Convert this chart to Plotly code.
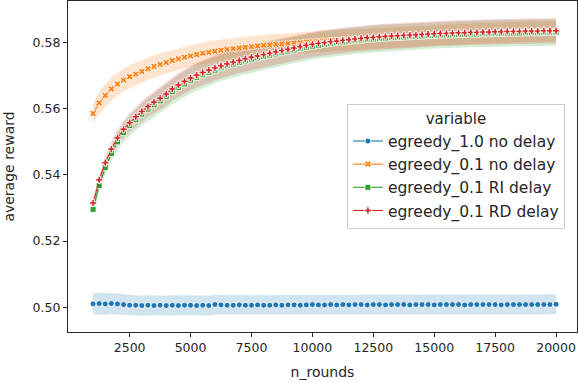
import numpy as np
import plotly.graph_objects as go

# n_rounds grid (every 250 rounds)
n_rounds = list(range(1000, 20001, 250))

# mean average reward per series
egreedy_10_no_delay = [
    0.5010, 0.5011, 0.5010, 0.5011, 0.5010, 0.5008, 0.5006, 0.5006, 0.5005, 0.5006,
    0.5005, 0.5006, 0.5005, 0.5006, 0.5005, 0.5006, 0.5006, 0.5005, 0.5006, 0.5005,
    0.5008, 0.5007, 0.5006, 0.5006, 0.5007, 0.5006, 0.5006, 0.5007, 0.5006, 0.5006,
    0.5007, 0.5006, 0.5007, 0.5007, 0.5006, 0.5007, 0.5008, 0.5007, 0.5007, 0.5008,
    0.5007, 0.5008, 0.5007, 0.5008, 0.5008, 0.5007, 0.5008, 0.5008, 0.5007, 0.5008,
    0.5008, 0.5008, 0.5007, 0.5008, 0.5008, 0.5008, 0.5007, 0.5008, 0.5008, 0.5008,
    0.5008, 0.5007, 0.5008, 0.5008, 0.5008, 0.5008, 0.5008, 0.5007, 0.5008, 0.5008,
    0.5008, 0.5008, 0.5008, 0.5008, 0.5008, 0.5008, 0.5009,
]
egreedy_01_no_delay = [
    0.5586, 0.5618, 0.5640, 0.5660, 0.5675, 0.5687, 0.5697, 0.5705, 0.5713, 0.5721,
    0.5728, 0.5734, 0.5740, 0.5746, 0.5751, 0.5756, 0.5760, 0.5764, 0.5768, 0.5771,
    0.5774, 0.5777, 0.5780, 0.5782, 0.5784, 0.5786, 0.5788, 0.5790, 0.5792, 0.5793,
    0.5795, 0.5796, 0.5798, 0.5799, 0.5800, 0.5802, 0.5803, 0.5804, 0.5805, 0.5806,
    0.5807, 0.5808, 0.5809, 0.5810, 0.5811, 0.5812, 0.5813, 0.5814, 0.5815, 0.5816,
    0.5817, 0.5818, 0.5819, 0.5820, 0.5821, 0.5821, 0.5822, 0.5823, 0.5824, 0.5825,
    0.5826, 0.5826, 0.5827, 0.5828, 0.5829, 0.5829, 0.5830, 0.5831, 0.5831, 0.5832,
    0.5832, 0.5833, 0.5833, 0.5834, 0.5834, 0.5835, 0.5835,
]
egreedy_01_ri_delay = [
    0.5296, 0.5368, 0.5422, 0.5465, 0.5500, 0.5528, 0.5549, 0.5567, 0.5584, 0.5599,
    0.5612, 0.5624, 0.5637, 0.5652, 0.5664, 0.5675, 0.5686, 0.5695, 0.5703, 0.5710,
    0.5717, 0.5724, 0.5730, 0.5735, 0.5740, 0.5745, 0.5750, 0.5754, 0.5758, 0.5762,
    0.5766, 0.5770, 0.5774, 0.5778, 0.5782, 0.5786, 0.5789, 0.5792, 0.5795, 0.5798,
    0.5800, 0.5802, 0.5804, 0.5806, 0.5808, 0.5810, 0.5811, 0.5813, 0.5814, 0.5815,
    0.5816, 0.5817, 0.5818, 0.5819, 0.5820, 0.5821, 0.5822, 0.5823, 0.5823, 0.5824,
    0.5825, 0.5825, 0.5826, 0.5826, 0.5827, 0.5827, 0.5828, 0.5828, 0.5829, 0.5829,
    0.5829, 0.5830, 0.5830, 0.5830, 0.5831, 0.5831, 0.5831,
]
egreedy_01_rd_delay = [
    0.5315, 0.5385, 0.5437, 0.5478, 0.5512, 0.5538, 0.5558, 0.5576, 0.5592, 0.5607,
    0.5620, 0.5632, 0.5645, 0.5660, 0.5672, 0.5683, 0.5693, 0.5702, 0.5710, 0.5717,
    0.5724, 0.5730, 0.5736, 0.5741, 0.5746, 0.5751, 0.5756, 0.5760, 0.5764, 0.5768,
    0.5772, 0.5776, 0.5780, 0.5784, 0.5788, 0.5792, 0.5795, 0.5798, 0.5800, 0.5803,
    0.5805, 0.5807, 0.5809, 0.5811, 0.5813, 0.5815, 0.5816, 0.5818, 0.5819, 0.5820,
    0.5821, 0.5822, 0.5823, 0.5824, 0.5825, 0.5826, 0.5827, 0.5828, 0.5828, 0.5829,
    0.5830, 0.5830, 0.5831, 0.5831, 0.5832, 0.5832, 0.5833, 0.5833, 0.5834, 0.5834,
    0.5834, 0.5835, 0.5835, 0.5835, 0.5836, 0.5836, 0.5836,
]

# half-width of the confidence band per series
ci_10_no_delay = [
    0.0032, 0.0033, 0.0033, 0.0032, 0.0032, 0.0031, 0.0031, 0.0031, 0.0030, 0.0030,
    0.0030, 0.0030, 0.0030, 0.0030, 0.0030, 0.0030, 0.0030, 0.0030, 0.0030, 0.0030,
    0.0030, 0.0030, 0.0030, 0.0030, 0.0030, 0.0030, 0.0030, 0.0030, 0.0030, 0.0030,
    0.0030, 0.0030, 0.0030, 0.0030, 0.0030, 0.0030, 0.0030, 0.0030, 0.0030, 0.0030,
    0.0030, 0.0030, 0.0030, 0.0030, 0.0030, 0.0030, 0.0030, 0.0030, 0.0030, 0.0030,
    0.0030, 0.0030, 0.0030, 0.0030, 0.0030, 0.0030, 0.0030, 0.0030, 0.0030, 0.0030,
    0.0030, 0.0030, 0.0030, 0.0030, 0.0030, 0.0030, 0.0030, 0.0030, 0.0030, 0.0030,
    0.0030, 0.0030, 0.0030, 0.0030, 0.0030, 0.0030, 0.0030,
]
ci_01_no_delay = [
    0.0030, 0.0034, 0.0035, 0.0035, 0.0035, 0.0035, 0.0035, 0.0034, 0.0034, 0.0034,
    0.0034, 0.0034, 0.0033, 0.0033, 0.0033, 0.0033, 0.0033, 0.0033, 0.0033, 0.0033,
    0.0032, 0.0032, 0.0032, 0.0032, 0.0032, 0.0032, 0.0032, 0.0032, 0.0032, 0.0032,
    0.0031, 0.0031, 0.0031, 0.0031, 0.0031, 0.0031, 0.0031, 0.0031, 0.0031, 0.0031,
    0.0031, 0.0031, 0.0031, 0.0031, 0.0031, 0.0031, 0.0031, 0.0031, 0.0031, 0.0031,
    0.0031, 0.0031, 0.0031, 0.0031, 0.0031, 0.0031, 0.0031, 0.0031, 0.0031, 0.0031,
    0.0031, 0.0031, 0.0031, 0.0031, 0.0031, 0.0031, 0.0031, 0.0031, 0.0031, 0.0031,
    0.0031, 0.0031, 0.0031, 0.0031, 0.0031, 0.0031, 0.0031,
]
ci_01_ri_delay = [
    0.0012, 0.0016, 0.0020, 0.0023, 0.0026, 0.0028, 0.0030, 0.0032, 0.0033, 0.0034,
    0.0035, 0.0036, 0.0037, 0.0038, 0.0038, 0.0039, 0.0039, 0.0040, 0.0040, 0.0040,
    0.0040, 0.0040, 0.0040, 0.0040, 0.0040, 0.0040, 0.0040, 0.0040, 0.0040, 0.0040,
    0.0040, 0.0040, 0.0040, 0.0040, 0.0040, 0.0040, 0.0040, 0.0040, 0.0040, 0.0040,
    0.0040, 0.0040, 0.0040, 0.0040, 0.0040, 0.0040, 0.0040, 0.0040, 0.0040, 0.0040,
    0.0040, 0.0040, 0.0040, 0.0040, 0.0040, 0.0040, 0.0040, 0.0040, 0.0040, 0.0040,
    0.0040, 0.0040, 0.0040, 0.0040, 0.0040, 0.0040, 0.0040, 0.0040, 0.0040, 0.0040,
    0.0040, 0.0040, 0.0040, 0.0040, 0.0040, 0.0040, 0.0040,
]
ci_01_rd_delay = [
    0.0012, 0.0015, 0.0018, 0.0021, 0.0024, 0.0026, 0.0028, 0.0030, 0.0031, 0.0032,
    0.0033, 0.0034, 0.0035, 0.0035, 0.0036, 0.0036, 0.0037, 0.0037, 0.0037, 0.0038,
    0.0038, 0.0038, 0.0038, 0.0038, 0.0038, 0.0038, 0.0038, 0.0038, 0.0038, 0.0038,
    0.0038, 0.0038, 0.0038, 0.0038, 0.0038, 0.0038, 0.0038, 0.0038, 0.0038, 0.0038,
    0.0038, 0.0038, 0.0038, 0.0038, 0.0038, 0.0038, 0.0038, 0.0038, 0.0038, 0.0038,
    0.0038, 0.0038, 0.0038, 0.0038, 0.0038, 0.0038, 0.0038, 0.0038, 0.0038, 0.0038,
    0.0038, 0.0038, 0.0038, 0.0038, 0.0038, 0.0038, 0.0038, 0.0038, 0.0038, 0.0038,
    0.0038, 0.0038, 0.0038, 0.0038, 0.0038, 0.0038, 0.0038,
]

series = [
    ("egreedy_1.0 no delay", egreedy_10_no_delay, ci_10_no_delay, "#1f77b4", "circle"),
    ("egreedy_0.1 no delay", egreedy_01_no_delay, ci_01_no_delay, "#ff7f0e", "x"),
    ("egreedy_0.1 RI delay", egreedy_01_ri_delay, ci_01_ri_delay, "#2ca02c", "square"),
    ("egreedy_0.1 RD delay", egreedy_01_rd_delay, ci_01_rd_delay, "#d62728", "cross"),
]


def rgba(hex_color, alpha):
    h = hex_color.lstrip("#")
    r, g, b = (int(h[i:i + 2], 16) for i in (0, 2, 4))
    return f"rgba({r},{g},{b},{alpha})"


fig = go.Figure()
x = np.array(n_rounds)

# bands first, they sit under every line
for name, mean, ci, color, symbol in series:
    mean = np.array(mean)
    ci = np.array(ci)
    fig.add_trace(go.Scatter(
        x=np.concatenate([x, x[::-1]]),
        y=np.concatenate([mean + ci, (mean - ci)[::-1]]),
        fill="toself", fillcolor=rgba(color, 0.2),
        line=dict(width=0), mode="lines",
        hoverinfo="skip", showlegend=False,
    ))

for name, mean, ci, color, symbol in series:
    fig.add_trace(go.Scatter(
        x=n_rounds, y=mean, name=name, mode="lines+markers",
        line=dict(color=color, width=1.1),
        marker=dict(symbol=symbol, size=6, color=color,
                    line=dict(color="white", width=0.9)),
    ))

axis_font = dict(family="DejaVu Sans", size=12.5, color="#262626")
title_font = dict(family="DejaVu Sans", size=14, color="#262626")
common = dict(
    showline=True, mirror=True, linecolor="#262626", linewidth=1.25,
    ticks="outside", ticklen=4, tickcolor="#262626", tickwidth=1.25,
    showgrid=False, zeroline=False, tickfont=axis_font,
)

fig.update_layout(
    width=578, height=382,
    margin=dict(l=68, r=1, t=1, b=50, autoexpand=False),
    plot_bgcolor="white", paper_bgcolor="white",
    font=dict(family="DejaVu Sans", color="#262626"),
    xaxis=dict(
        range=[-30, 20860],
        tickvals=[2500, 5000, 7500, 10000, 12500, 15000, 17500, 20000],
        tickformat="d",
        title=dict(text="n_rounds", font=title_font, standoff=13),
        automargin=False,
        **common,
    ),
    yaxis=dict(
        range=[0.4925, 0.5926],
        tickvals=[0.50, 0.52, 0.54, 0.56, 0.58], tickformat=".2f",
        title=dict(text="average reward", font=title_font, standoff=14),
        automargin=False,
        **common,
    ),
    legend=dict(
        x=0.548, y=0.689, xanchor="left", yanchor="top",
        bgcolor="rgba(255,255,255,0.8)", bordercolor="#cccccc", borderwidth=1,
        font=dict(family="DejaVu Sans", size=15.5, color="#262626"),
        title=dict(text="variable", side="top center",
                   font=dict(family="DejaVu Sans", size=15, color="#262626")),
    ),
    showlegend=True,
)

# the page body has a default 8px margin; drop it so the figure fills the window
fig.write_html("out.html", config={"displayModeBar": False},
               post_script="document.body.style.margin='0';")
